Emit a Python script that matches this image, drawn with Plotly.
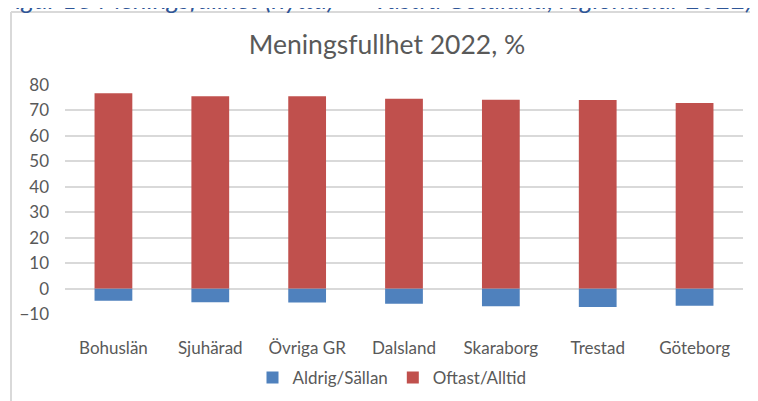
import plotly.graph_objects as go

regions = ["Bohuslän", "Sjuhärad", "Övriga GR", "Dalsland", "Skaraborg", "Trestad", "Göteborg"]
aldrig_sallan = [-4.8, -5.4, -5.5, -6.0, -7.0, -7.2, -6.8]
oftast_alltid = [76.8, 75.6, 75.6, 74.6, 74.2, 74.1, 72.9]
y_ticks = [-10, 0, 10, 20, 30, 40, 50, 60, 70, 80]

FONT = "Lato, 'Open Sans', sans-serif"
GREY = "#595959"

fig = go.Figure()
fig.add_trace(go.Bar(name="Aldrig/Sällan", x=regions, y=aldrig_sallan, marker_color="#4F81BD",
                     marker_line=dict(color="#4F81BD", width=0)))
fig.add_trace(go.Bar(name="Oftast/Alltid", x=regions, y=oftast_alltid, marker_color="#C0504D",
                     marker_line=dict(color="#C0504D", width=0)))

# the page puts the figure 8px in from the top-left corner
OFF = 8
W, H = 758, 401
L, R, T, B = 65 - OFF, 23, 85 - OFF, 95
pw, ph = W - L - R, H - T - B


def px(x):
    return (x - OFF - L) / pw


def py(y):
    return (H - B - (y - OFF)) / ph


fig.update_layout(
    width=W,
    height=H,
    barmode="relative",
    bargap=0.61,
    plot_bgcolor="white",
    paper_bgcolor="white",
    margin=dict(l=L, r=R, t=T, b=B, autoexpand=False),
    font=dict(family=FONT, color=GREY, size=17),
    title=dict(text="Meningsfullhet 2022, %", x=(387 - OFF) / W, xanchor="center",
               y=1 - (45 - OFF) / H, yanchor="middle",
               font=dict(size=26.5, color=GREY, family=FONT)),
    xaxis=dict(showgrid=False, ticks="", tickfont=dict(size=17), showline=False, automargin=False,
               ticklabelstandoff=22),
    yaxis=dict(range=[-10, 80], tickvals=y_ticks, showgrid=True, gridcolor="#D9D9D9", gridwidth=1.5,
               zeroline=True, zerolinecolor="#D9D9D9", zerolinewidth=1.5, tickfont=dict(size=17),
               ticks="", ticklabelstandoff=15, automargin=False),
    legend=dict(orientation="h", x=px(392), xanchor="center", y=py(378), yanchor="middle",
                font=dict(size=17, color=GREY), traceorder="normal", itemwidth=30),
    shapes=[
        dict(type="line", xref="paper", yref="paper", x0=px(11), x1=px(11), y0=py(12), y1=py(420),
             line=dict(color="#D9D9D9", width=2)),
        dict(type="line", xref="paper", yref="paper", x0=px(11), x1=px(766), y0=py(12), y1=py(12),
             line=dict(color="#D9D9D9", width=2)),
    ],
    annotations=[
        dict(text="Figur 18 Meningsfullhet (nytta)  –  Västra Götaland, regiondelar 2022)",
             xref="paper", yref="paper", x=px(0), y=py(17), xanchor="left", yanchor="bottom",
             showarrow=False, font=dict(size=26, color="#2E5597", family=FONT, style="italic")),
    ],
)

fig.write_html("out.html")
